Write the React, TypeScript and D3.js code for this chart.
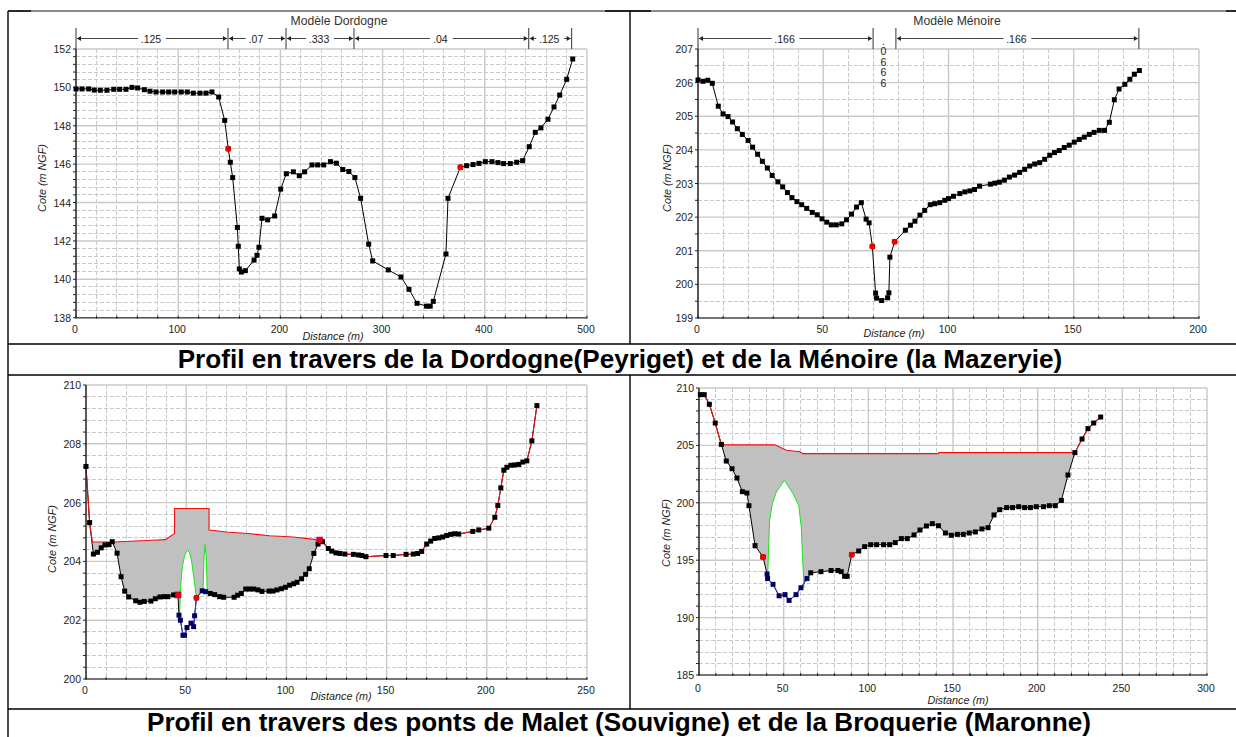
import React from "react";
import * as d3 from "d3";

// ---------- Dordogne ----------
const dordogneX = [0,5.9,12.4,17.9,23.8,30.3,36.9,42.7,48.9,54.8,60.3,66.9,72.4,78.3,84.8,90.7,96.5,103,108.9,114.8,121.3,127.2,133,139.6,145.5,149,151,153.3,157.9,158.8,159.8,161.8,165.7,174.2,177.1,179,182,187.5,194.4,200.3,205.8,212.7,218.5,223.7,230.9,236.5,242.4,249,254.7,261,267,272.9,278.5,286.4,290.3,305.6,318,325.8,333.7,343,346.6,349.6,362,364,376.1,382.2,388.5,394.3,400.5,407,412.9,418.4,424.9,431.2,437,443.5,449.4,454.9,461.8,467.7,473.3,480.1,486];
const dordogneY = [149.92,149.92,149.92,149.86,149.85,149.85,149.9,149.9,149.9,150,149.97,149.88,149.8,149.76,149.76,149.76,149.76,149.76,149.76,149.7,149.7,149.7,149.76,149.5,148.28,146.8,146.1,145.3,142.7,141.72,140.54,140.38,140.45,141,141.25,141.67,143.18,143.1,143.3,144.7,145.5,145.6,145.4,145.6,145.96,145.96,145.96,146.13,146.05,145.72,145.62,145.3,144.22,141.83,140.96,140.49,140.12,139.48,138.75,138.6,138.6,138.85,141.32,144.22,145.84,145.92,145.98,146.04,146.13,146.13,146.08,146.03,146.03,146.1,146.18,146.91,147.66,147.89,148.34,148.98,149.6,150.42,151.48];
const dordogneBankX = [149, 376.1];
const dordogneBankY = [146.8, 145.84];
const dordogneEdges = [0, 148.7, 205.5, 272, 443, 485];
const dordogneCoef = [".125", ".07", ".333", ".04", ".125"];

// ---------- Ménoire ----------
const menoireX = [0,2,3.9,5.7,8.1,10,12,13.8,15.7,17.7,20,21.8,23.8,25.7,27.7,29.6,31.9,33.8,35.7,37.5,39.5,41.4,43.4,45.6,47.6,49.5,51.4,53.2,55.2,57.4,59.3,61.3,63.3,65.2,67.1,68.3,69.6,70.9,71.3,73.3,75.7,76.2,76.6,78.5,82.8,84.8,86.6,88.6,90.5,92.7,94.5,96.5,98.5,100,102,104.5,106.5,108.5,110.4,112.4,116.7,118.5,120.3,122.3,124.3,126.4,128.4,130.4,132.4,134.4,136.4,138.4,140.4,142.3,144.2,146.2,148.2,150.2,152.2,154.2,156.2,158.1,160.2,162.3,164.2,166.2,168.1,170.4,172.4,174.2,176.2];
const menoireY = [206.08,206.04,206.07,205.98,205.3,205.07,204.99,204.83,204.63,204.46,204.28,204.08,203.87,203.66,203.46,203.24,203.05,202.9,202.73,202.58,202.46,202.37,202.26,202.14,202.07,201.95,201.85,201.77,201.77,201.8,201.92,202.09,202.3,202.43,201.94,201.83,201.13,199.74,199.59,199.52,199.6,199.75,200.81,201.27,201.61,201.76,201.88,202.06,202.2,202.37,202.4,202.43,202.5,202.55,202.62,202.7,202.75,202.78,202.82,202.92,202.98,203.01,203.04,203.1,203.19,203.25,203.33,203.42,203.52,203.58,203.62,203.72,203.84,203.92,203.98,204.07,204.14,204.23,204.31,204.38,204.46,204.52,204.58,204.58,204.82,205.49,205.81,205.95,206.1,206.25,206.36];
const menoireBankX = [69.6, 78.5];
const menoireBankY = [201.13, 201.27];
const menoireEdges = [0, 69.9, 79, 176];
const menoireCoef = [".166", ".0666", ".166"];

// ---------- Malet ----------
const maletX = [0,1.8,3.7,5.7,7.6,9.5,11.5,13.1,15.5,17.5,19.3,21.3,24.8,26.9,29.1,32.4,34.6,36.9,39.1,40.9,43.7,45.9,46.4,47.1,48.4,49.2,50.4,52.4,53.7,54.2,55.1,58,59.7,62,64.2,66.7,68.7,73.9,75.7,77.5,79.7,81.7,83.7,85.8,87.8,91.3,93.3,95.3,97.5,99.5,101.6,103.6,105.3,107.6,109.6,111.4,113.7,115.8,116.6,118,120.9,122.6,124.7,126.7,129.2,133.4,135.9,137.6,139.7,149.7,153.3,159.7,163.3,165.5,167.5,170,172,174,176,178,180,182,184,186,193,196,201,204,205.5,207,208.5,210,212,214,216,218,220,222.5,225];
const maletY = [207.23,205.32,204.25,204.31,204.46,204.56,204.57,204.67,204.28,203.48,202.99,202.79,202.66,202.61,202.64,202.65,202.73,202.79,202.8,202.8,202.86,202.86,202.17,202,201.49,201.49,201.75,201.9,201.78,202.15,202.76,203,202.97,202.91,202.87,202.8,202.78,202.78,202.85,202.91,203.06,203.06,203.06,203.03,202.98,202.99,202.99,203.03,203.07,203.12,203.19,203.24,203.29,203.41,203.56,203.75,204.27,204.59,204.72,204.67,204.44,204.35,204.29,204.27,204.25,204.24,204.22,204.2,204.16,204.2,204.2,204.24,204.25,204.27,204.34,204.59,204.69,204.78,204.8,204.83,204.88,204.92,204.94,204.93,205.02,205.07,205.13,205.5,205.9,206.5,207.1,207.2,207.27,207.28,207.3,207.38,207.42,208.1,209.3];
const maletDeckX = [3.2,14.3,33,39.6,44.2,44.2,61.4,61.4,70,80.8,91.6,103.3,115,117];
const maletDeckY = [204.66,204.66,204.72,204.74,204.95,205.8,205.8,205.07,205,204.95,204.87,204.83,204.74,204.72];
const maletArchAX = [46.7,47.2,48,49.2,50.6,51.6,52.6,54.2,55.1];
const maletArchAY = [202.2,203.1,203.8,204.2,204.39,204.3,204.05,203.25,202.76];
const maletArchBX = [58.4,58.9,59.4,60,60.5];
const maletArchBY = [203.03,204.16,204.57,204.16,202.97];
const maletBankX = [45.9, 55.1, 116.6];
const maletBankY = [202.86, 202.76, 204.72];

// ---------- Broquerie ----------
const broquerieX = [0.8,3.1,6.1,9.6,13.2,16.1,19.5,22.4,25.6,28.3,29.5,33.1,37.8,40.2,40.5,43.7,47.3,50.8,53.2,57.3,60.2,63.8,66,72,78,82,84,86,87.5,90.2,94.3,97.8,101.4,104.9,109,112.6,115.9,119.5,123,127,130.5,134.3,137.8,141.4,145.5,149,152.6,156.1,159.6,163.2,167.1,170.7,174.2,177.6,181.7,185.2,188.8,192.3,195.7,199.2,203.4,206.9,210.4,214,217.9,222,226.2,229.7,233.1,237.2];
const broquerieY = [209.42,209.42,208.58,206.95,205.09,203.64,202.97,202.16,200.97,200.85,199.75,196.27,195.28,193.8,193.4,192.9,191.9,192,191.5,192,192.6,193.4,193.9,194,194.1,194.1,194,193.6,193.6,195.48,195.8,196.18,196.35,196.35,196.35,196.35,196.53,196.88,196.88,197.2,197.63,197.98,198.18,198,197.37,197.17,197.25,197.25,197.37,197.46,197.72,197.83,198.94,199.4,199.58,199.58,199.66,199.58,199.58,199.66,199.66,199.75,199.75,200.21,202.42,204.37,205.56,206.46,206.95,207.47];
const broquerieDeckX = [13.2,44.7,51.6,59.4,61.4,141.1,141.7,222];
const broquerieDeckY = [205.05,205.05,204.57,204.45,204.28,204.28,204.37,204.37];
const broquerieArchX = [40.5,41,41.7,43.3,45.7,50.4,55.5,58.9,60.4,61.2,61.8,62];
const broquerieArchY = [193.4,195.5,198.47,199.92,200.94,201.96,200.8,199.78,197.89,195,193.5,192.6];
const broquerieBankX = [37.8, 90.2];
const broquerieBankY = [195.28, 195.48];

const zip = (xs: number[], ys: number[]) => xs.map((x, i) => [x, ys[i]] as [number, number]);
const FONT = "'Liberation Sans', Arial, sans-serif";

type Cfg = {
  box: [number, number, number, number];
  xDom: [number, number]; yDom: [number, number];
  xMajor: number; xMinor: number; yMajor: number; yMinor: number;
  ground: [number, number][]; banks: [number, number][];
  deck?: [number, number][]; arches?: [number, number][][];
  channels?: [number, number][]; pink?: [number, number][];
  edges?: number[]; coefs?: string[]; title?: string; titleX?: number;
  xLabel: [number, number]; yLabel: [number, number]; tickBase: number;
};

function Chart({ c }: { c: Cfg }) {
  const [l, t, r, b] = c.box;
  const x = d3.scaleLinear().domain(c.xDom).range([l, r]);
  const y = d3.scaleLinear().domain(c.yDom).range([b, t]);
  const line = d3.line<[number, number]>().x((d) => x(d[0])).y((d) => y(d[1]));
  const steps = (d: [number, number], s: number) =>
    d3.range(Math.round((d[1] - d[0]) / s) + 1).map((i) => d[0] + i * s);
  const xM = steps(c.xDom, c.xMajor), xm = steps(c.xDom, c.xMinor);
  const yM = steps(c.yDom, c.yMajor), ym = steps(c.yDom, c.yMinor);
  const near = (v: number, a: number[]) => a.some((q) => Math.abs(q - v) < 1e-6);
  const G = "#c9c9c9";
  const deck = c.deck;
  const inRange = (p: [number, number], a: number, z: number) => p[0] >= a && p[0] <= z;
  const channelOf = (p: [number, number]) => (c.channels || []).some(([a, z]) => inRange(p, a, z));
  let poly: [number, number][] = [];
  let red: [number, number][] = [];
  if (deck) {
    const a = deck[0][0], z = deck[deck.length - 1][0];
    poly = [...deck, ...c.ground.filter((p) => inRange(p, a, z)).reverse()];
    red = [...c.ground.filter((p) => p[0] < a), ...deck, ...c.ground.filter((p) => p[0] > z)];
  }
  return (
    <g fontFamily={FONT}>
      {/* grid */}
      {xm.filter((v) => !near(v, xM)).map((v) => (
        <line key={"xm" + v} x1={x(v)} x2={x(v)} y1={t} y2={b} stroke={G} strokeDasharray="4 2" shapeRendering="crispEdges" />
      ))}
      {ym.filter((v) => !near(v, yM)).map((v) => (
        <line key={"ym" + v} x1={l} x2={r} y1={y(v)} y2={y(v)} stroke={G} strokeDasharray="4 2" shapeRendering="crispEdges" />
      ))}
      {xM.map((v) => (
        <line key={"xM" + v} x1={x(v)} x2={x(v)} y1={t} y2={b} stroke={G} strokeWidth={1.4} />
      ))}
      {yM.map((v) => (
        <line key={"yM" + v} x1={l} x2={r} y1={y(v)} y2={y(v)} stroke={G} strokeWidth={1.4} />
      ))}
      {/* deck and arches */}
      {deck && <path d={line(poly) + "Z"} fill="#c0c0c0" stroke="none" />}
      {(c.arches || []).map((a, i) => {
        const ga = c.ground.filter((p) => inRange(p, a[0][0], a[a.length - 1][0])).reverse();
        return (
          <g key={"arch" + i}>
            <path d={line([...a, ...ga]) + "Z"} fill="#fff" />
            <path d={line(a) as string} fill="none" stroke="#19e619" strokeWidth={1} />
          </g>
        );
      })}
      {/* ground */}
      <path d={line(c.ground) as string} fill="none" stroke="#000" strokeWidth={1} />
      {(c.channels || []).map(([a, z], i) => (
        <path key={"ch" + i} d={line(c.ground.filter((p) => inRange(p, a, z))) as string} fill="none" stroke="#3a3ae0" strokeWidth={1} />
      ))}
      {deck && <path d={line(red) as string} fill="none" stroke="#f01010" strokeWidth={1.1} />}
      {/* axes */}
      <line x1={l} x2={r} y1={b} y2={b} stroke="#555" strokeWidth={1.4} />
      <line x1={l} x2={l} y1={t} y2={b} stroke="#222" strokeWidth={1.4} />
      {ym.map((v) => (
        <line key={"ty" + v} x1={l - 3} x2={l} y1={y(v)} y2={y(v)} stroke="#222" strokeWidth={1} />
      ))}
      {xm.map((v) => (
        <line key={"tx" + v} x1={x(v)} x2={x(v)} y1={b - 2} y2={b + 1} stroke="#222" strokeWidth={1} />
      ))}
      {/* points */}
      {(c.pink || []).map((p, i) => (
        <rect key={"pk" + i} x={x(p[0]) - 3.5} y={y(p[1]) - 3.5} width={7} height={7} fill="#e020d0" />
      ))}
      {c.ground.map((p, i) => (
        <rect key={"pt" + i} x={x(p[0]) - 2.5} y={y(p[1]) - 2.5} width={5} height={5}
          fill={channelOf(p) ? "#000060" : "#000"} />
      ))}
      {c.banks.map((p, i) => (
        <circle key={"bk" + i} cx={x(p[0])} cy={y(p[1])} r={3} fill="#f00000" />
      ))}
      {/* tick labels */}
      <g fontSize={10.5} fill="#222">
        {yM.map((v) => (
          <text key={"ly" + v} x={l - 5} y={y(v) + 4} textAnchor="end">{v}</text>
        ))}
        {xM.map((v) => (
          <text key={"lx" + v} x={x(v) - 1} y={c.tickBase} textAnchor="middle">{v}</text>
        ))}
      </g>
      <text x={c.xLabel[0]} y={c.xLabel[1]} textAnchor="middle" fontSize={10.8} fontStyle="italic" fill="#222">Distance (m)</text>
      <text transform={`translate(${c.yLabel[0]},${c.yLabel[1]}) rotate(-90)`} textAnchor="middle" fontSize={10.8} fontStyle="italic" fill="#222">Cote (m NGF)</text>
      {/* roughness band */}
      {c.title && <text x={c.titleX} y={25} textAnchor="middle" fontSize={12.2} fill="#333">{c.title}</text>}
      {c.edges && c.edges.map((e, i) => (
        <line key={"ed" + i} x1={x(e)} x2={x(e)} y1={28} y2={49} stroke="#333" strokeWidth={1} />
      ))}
      {c.edges && c.coefs && c.coefs.map((s, i) => {
        const a = x(c.edges![i]), z = x(c.edges![i + 1]);
        const mid = (a + z) / 2;
        const AY = 38.5;
        const head = (tip: number, dir: number) =>
          `M${tip},${AY}L${tip + dir * 4},${AY - 2.5}L${tip + dir * 4},${AY + 2.5}Z`;
        if (z - a < 40) {
          return (
            <g key={"co" + i} fontSize={10.5} fill="#222" textAnchor="middle">
              {s.split("").map((ch, k) => (
                <text key={k} x={mid - 1} y={ch === "." ? 45 : 55 + (k - 1) * 10.6}>{ch}</text>
              ))}
            </g>
          );
        }
        const w = s.length * 5.2 + 7;
        return (
          <g key={"co" + i}>
            <line x1={a + 1} x2={mid - w / 2} y1={AY} y2={AY} stroke="#444" />
            <line x1={mid + w / 2} x2={z - 1} y1={AY} y2={AY} stroke="#444" />
            <path d={head(a + 1, 1)} fill="#222" />
            <path d={head(z - 1, -1)} fill="#222" />
            <text x={mid - 1} y={AY + 4} textAnchor="middle" fontSize={10.5} fill="#222">{s}</text>
          </g>
        );
      })}
    </g>
  );
}

const charts: Cfg[] = [
  { box: [76, 49, 587, 317.7], xDom: [0, 500], yDom: [138, 152], xMajor: 100, xMinor: 20, yMajor: 2, yMinor: 0.4,
    ground: zip(dordogneX, dordogneY), banks: zip(dordogneBankX, dordogneBankY),
    edges: dordogneEdges, coefs: dordogneCoef, title: "Modèle Dordogne", titleX: 339,
    xLabel: [333, 340], yLabel: [46, 178], tickBase: 333 },
  { box: [698, 49, 1199, 318], xDom: [0, 200], yDom: [199, 207], xMajor: 50, xMinor: 10, yMajor: 1, yMinor: 0.5,
    ground: zip(menoireX, menoireY), banks: zip(menoireBankX, menoireBankY),
    edges: menoireEdges, coefs: menoireCoef, title: "Modèle Ménoire", titleX: 957,
    xLabel: [894, 337], yLabel: [671, 178], tickBase: 333 },
  { box: [86, 385, 587, 679], xDom: [0, 250], yDom: [200, 210], xMajor: 50, xMinor: 10, yMajor: 2, yMinor: 0.4,
    ground: zip(maletX, maletY), banks: zip(maletBankX, maletBankY),
    deck: zip(maletDeckX, maletDeckY), arches: [zip(maletArchAX, maletArchAY), zip(maletArchBX, maletArchBY)],
    channels: [[46.2, 55.2], [58, 60]], pink: [[45.9, 202.86], [116.6, 204.72]],
    xLabel: [341, 700], yLabel: [56, 539], tickBase: 694 },
  { box: [699, 388, 1207, 675], xDom: [0, 300], yDom: [185, 210], xMajor: 50, xMinor: 10, yMajor: 5, yMinor: 1,
    ground: zip(broquerieX, broquerieY), banks: zip(broquerieBankX, broquerieBankY),
    deck: zip(broquerieDeckX, broquerieDeckY), arches: [zip(broquerieArchX, broquerieArchY)],
    channels: [[40, 64]],
    xLabel: [958, 704], yLabel: [670, 533], tickBase: 692 },
];

export default function App() {
  const W = 1236, H = 737;
  return (
    <svg width={W} height={H} style={{ position: "absolute", left: 0, top: 0, background: "#fff" }}>
      <g stroke="#000" strokeWidth={1.4}>
        <line x1={8} x2={W} y1={11} y2={11} stroke="#666" />
        <line x1={8} x2={31} y1={11} y2={11} />
        <line x1={605} x2={651} y1={11} y2={11} />
        <line x1={1226} x2={W} y1={11} y2={11} />
        <line x1={8} x2={8} y1={11} y2={H} />
        <line x1={630} x2={630} y1={11} y2={344} />
        <line x1={630} x2={630} y1={375} y2={709} />
        <line x1={8} x2={W} y1={344} y2={344} />
        <line x1={8} x2={W} y1={375} y2={375} />
        <line x1={8} x2={W} y1={709} y2={709} />
      </g>
      {charts.map((c, i) => <Chart key={i} c={c} />)}
      <g fontFamily={FONT} fontWeight="bold" fontSize={26.1} fill="#000" textAnchor="middle">
        <text x={620} y={368}>Profil en travers de la Dordogne(Peyriget) et de la Ménoire (la Mazeryie)</text>
        <text x={619} y={731}>Profil en travers des ponts de Malet (Souvigne) et de la Broquerie (Maronne)</text>
      </g>
    </svg>
  );
}
